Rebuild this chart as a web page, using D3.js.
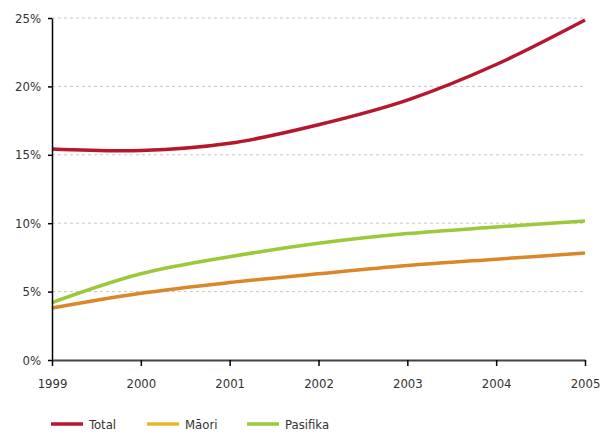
<!DOCTYPE html>
<html>
<head>
<meta charset="utf-8">
<script src="https://cdn.jsdelivr.net/npm/d3@7"></script>
<style>
  html, body { margin: 0; padding: 0; background: #fff; }
  svg { display: block; }
  text { font-family: "DejaVu Sans Condensed", "DejaVu Sans", sans-serif; font-stretch: condensed; fill: #333; }
</style>
</head>
<body>
<svg id="chart" width="613" height="434"></svg>
<script>
// Years on the x axis
const years = [1999, 2000, 2001, 2002, 2003, 2004, 2005];
// Percentages per group
const totalValues = [15.42, 15.31, 15.84, 17.2, 19.0, 21.6, 24.85];
const maoriValues = [3.8, 4.88, 5.66, 6.3, 6.9, 7.37, 7.82];
const pasifikaValues = [4.2, 6.3, 7.55, 8.53, 9.24, 9.72, 10.16];
// Y axis ticks
const yTicks = [0, 5, 10, 15, 20, 25];

const seriesNames = ["Total", "Māori", "Pasifika"];
const lineColors = ["#b5172f", "#d9872a", "#9cc83a"];
const legendColors = ["#b5172f", "#e6b82a", "#9cc83a"];
const seriesValues = [totalValues, maoriValues, pasifikaValues];

const svg = d3.select("#chart");
const margin = { left: 52, right: 28, top: 18, bottom: 74 };
const W = 613, H = 434;

const x = d3.scaleLinear().domain([1999, 2005]).range([margin.left, W - margin.right]);
const y = d3.scaleLinear().domain([0, 25]).range([H - margin.bottom, margin.top]);

// Dashed horizontal gridlines
svg.append("g")
  .selectAll("line")
  .data(yTicks.filter(d => d > 0))
  .join("line")
  .attr("x1", x(1999)).attr("x2", x(2005))
  .attr("y1", d => y(d)).attr("y2", d => y(d))
  .attr("stroke", "#c8c8c8")
  .attr("stroke-width", 1)
  .attr("stroke-dasharray", "3,3");

// Series lines
const line = d3.line()
  .x((d, i) => x(years[i]))
  .y(d => y(d))
  .curve(d3.curveCatmullRom.alpha(0.5));

svg.append("g")
  .selectAll("path")
  .data(seriesValues)
  .join("path")
  .attr("d", d => line(d))
  .attr("fill", "none")
  .attr("stroke", (d, i) => lineColors[i])
  .attr("stroke-width", 3.5)
  .attr("stroke-linecap", "butt");

// Y axis
const yAxis = d3.axisLeft(y)
  .tickValues(yTicks)
  .tickFormat(d => d + "%")
  .tickSizeInner(4)
  .tickSizeOuter(0)
  .tickPadding(7);
const yg = svg.append("g").attr("transform", `translate(${x(1999)},0)`).call(yAxis);
yg.select(".domain").attr("stroke", "#000").attr("stroke-width", 1.5);
yg.selectAll(".tick line").attr("stroke", "#000").attr("stroke-width", 1.5);
yg.selectAll(".tick text").attr("font-size", 13).attr("fill", "#333");

// X axis
const xAxis = d3.axisBottom(x)
  .tickValues(years)
  .tickFormat(d3.format("d"))
  .tickSizeInner(6)
  .tickSizeOuter(0)
  .tickPadding(13);
const xg = svg.append("g").attr("transform", `translate(0,${y(0)})`).call(xAxis);
xg.select(".domain").attr("stroke", "#444").attr("stroke-width", 2);
xg.selectAll(".tick line").attr("stroke", "#000").attr("stroke-width", 1.5);
xg.selectAll(".tick text").attr("font-size", 13).attr("fill", "#333");

// Legend
const legendX = [51, 147, 247];
const lg = svg.append("g").attr("transform", "translate(0,424)");
const item = lg.selectAll("g").data(seriesNames).join("g")
  .attr("transform", (d, i) => `translate(${legendX[i]},0)`);
item.append("line")
  .attr("x1", 0).attr("x2", 32).attr("y1", 0).attr("y2", 0)
  .attr("stroke", (d, i) => legendColors[i])
  .attr("stroke-width", 3.5);
item.append("text")
  .attr("x", 38).attr("y", 0).attr("dy", "0.35em")
  .attr("font-size", 13)
  .text(d => d);
</script>
</body>
</html>
